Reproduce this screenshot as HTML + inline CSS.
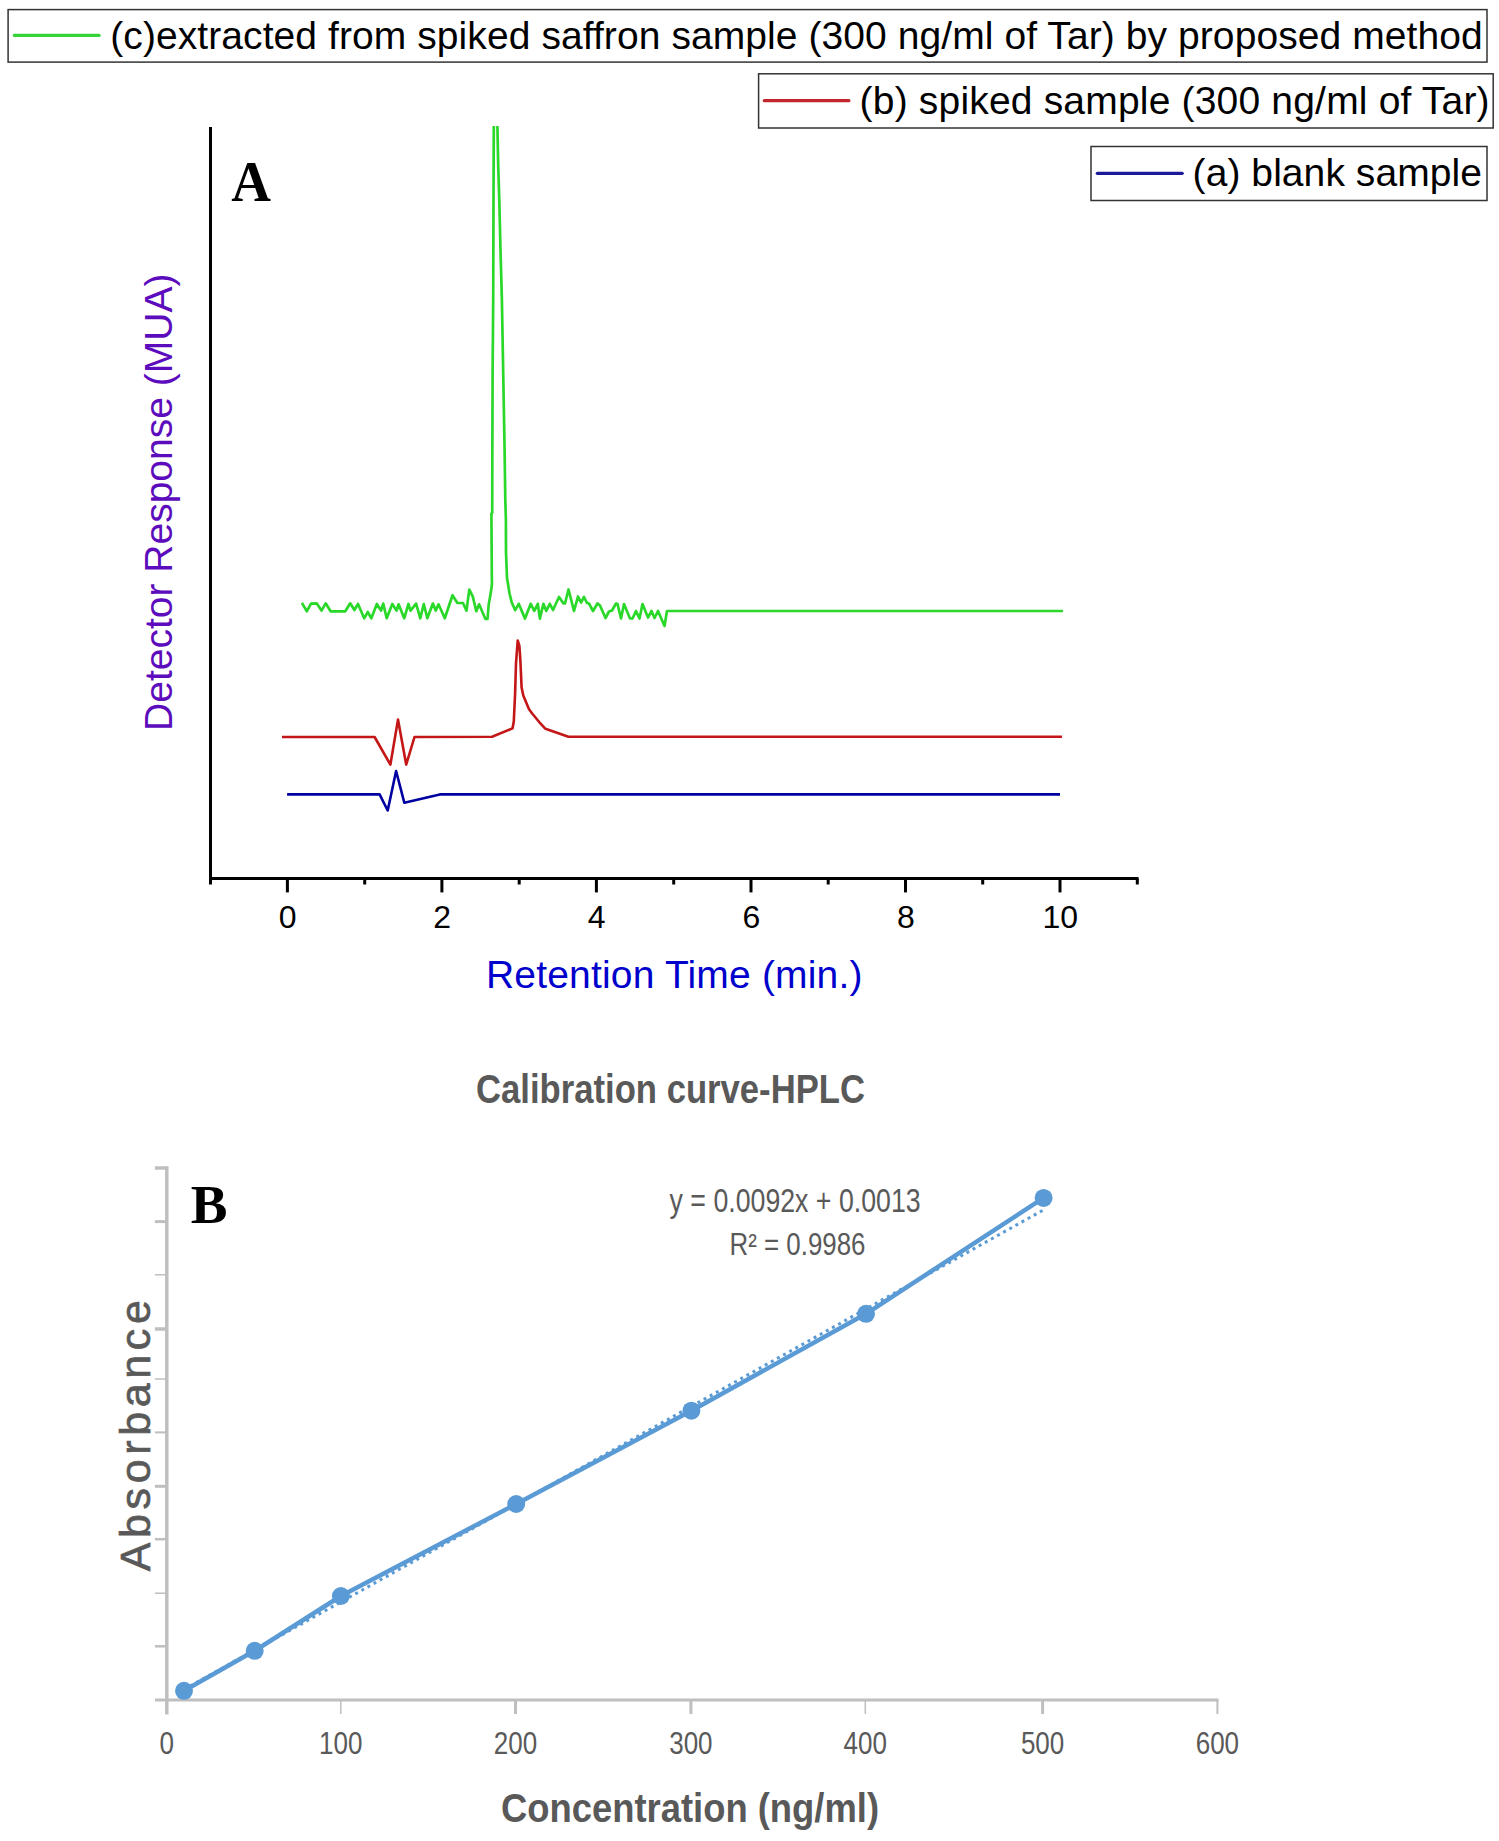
<!DOCTYPE html>
<html><head><meta charset="utf-8"><style>
html,body{margin:0;padding:0;background:#fff;}
svg{display:block;}
text{font-family:"Liberation Sans",sans-serif;}
</style></head><body>
<svg width="1499" height="1841" viewBox="0 0 1499 1841">
<defs><clipPath id="clipA"><rect x="0" y="126" width="1499" height="1000"/></clipPath></defs>
<rect width="1499" height="1841" fill="#fff"/>
<!-- legends -->
<g fill="none" stroke="#333" stroke-width="1.5">
<rect x="8.1" y="9.6" width="1478.9" height="52.5"/>
<rect x="758.6" y="73.8" width="734.6" height="54.2"/>
<rect x="1091" y="146.5" width="396" height="54"/>
</g>
<g stroke-width="3.2" stroke-linecap="round">
<line x1="14.3" y1="35.4" x2="99.1" y2="35.4" stroke="#36d436"/>
<line x1="764.3" y1="100.7" x2="848.9" y2="100.7" stroke="#c4262e"/>
<line x1="1097.3" y1="173.3" x2="1182.2" y2="173.3" stroke="#1a1a9a"/>
</g>
<g font-size="39" fill="#000">
<text x="110.3" y="49" textLength="1372.4" lengthAdjust="spacing">(c)extracted from spiked saffron sample (300 ng/ml of Tar) by proposed method</text>
<text x="859.6" y="113.6" textLength="630" lengthAdjust="spacing">(b) spiked sample (300 ng/ml of Tar)</text>
<text x="1192.6" y="186.2" textLength="289.3" lengthAdjust="spacing">(a) blank sample</text>
</g>
<!-- chart A -->
<text x="231.3" y="201.2" font-weight="bold" font-size="57.5" textLength="39.7" lengthAdjust="spacingAndGlyphs" style="font-family:'Liberation Serif',serif">A</text>
<g stroke="#000" stroke-width="3" fill="none">
<line x1="210.5" y1="127" x2="210.5" y2="884.6"/>
<line x1="209" y1="878.5" x2="1138.5" y2="878.5"/>
<line x1="287.4" y1="878.5" x2="287.4" y2="892.4"/><line x1="364.7" y1="878.5" x2="364.7" y2="884.5"/><line x1="441.9" y1="878.5" x2="441.9" y2="892.4"/><line x1="519.2" y1="878.5" x2="519.2" y2="884.5"/><line x1="596.4" y1="878.5" x2="596.4" y2="892.4"/><line x1="673.7" y1="878.5" x2="673.7" y2="884.5"/><line x1="751.0" y1="878.5" x2="751.0" y2="892.4"/><line x1="828.2" y1="878.5" x2="828.2" y2="884.5"/><line x1="905.5" y1="878.5" x2="905.5" y2="892.4"/><line x1="982.7" y1="878.5" x2="982.7" y2="884.5"/><line x1="1060.0" y1="878.5" x2="1060.0" y2="892.4"/><line x1="1137.3" y1="878.5" x2="1137.3" y2="884.5"/>
</g>
<g font-size="32" fill="#000"><text x="287.7" y="927.5" text-anchor="middle">0</text><text x="442.2" y="927.5" text-anchor="middle">2</text><text x="596.7" y="927.5" text-anchor="middle">4</text><text x="751.3" y="927.5" text-anchor="middle">6</text><text x="905.8" y="927.5" text-anchor="middle">8</text><text x="1060.3" y="927.5" text-anchor="middle">10</text></g>
<text transform="translate(172,730.9) rotate(-90)" font-size="39" fill="#5c0cbc">Detector Response (MUA)</text>
<text x="485.9" y="988.4" font-size="39" fill="#0000cc" textLength="376.6" lengthAdjust="spacing">Retention Time (min.)</text>
<g fill="none" stroke-linejoin="round">
<polyline points="287.1,794.4 379.6,794.4 387.7,810.5 396.1,771.0 404.3,802.7 439.8,794.4 1060.0,794.4" stroke="#0000a0" stroke-width="2.6"/>
<polyline points="282.0,737.0 374.6,737.0 390.4,764.6 398.0,719.6 406.2,764.6 414.5,737.0 492.1,736.7 512.5,728.4 513.8,721.5 515.1,693.7 516.0,663.4 517.7,640.5 519.4,646.0 520.3,659.0 521.6,687.6 523.3,695.5 529.0,709.3 532.4,713.7 539.4,722.3 545.5,728.8 568.4,736.7 1062.0,736.7" stroke="#c41616" stroke-width="2.6"/>
<polyline points="301.9,602.9 306.8,611.3 311.0,603.6 316.6,603.3 321.5,610.6 325.7,603.3 330.6,611.3 345.3,611.3 350.2,603.3 354.4,610.0 358.0,604.0 364.2,618.3 367.8,612.0 371.3,618.3 376.9,604.0 381.0,610.6 383.2,603.6 386.7,618.3 392.3,604.0 396.5,610.6 398.6,604.3 404.2,618.3 408.4,604.0 410.5,610.6 416.1,603.6 420.3,618.3 423.8,604.0 427.3,618.3 432.9,603.6 435.7,610.6 438.5,604.3 444.8,618.3 452.5,595.2 457.4,603.0 463.0,603.0 466.5,610.6 469.3,589.6 472.8,596.6 476.3,611.3 479.1,604.3 485.4,619.0 487.5,619.0 488.7,604.5 490.5,594.6 491.9,584.7 491.4,514.0 492.2,512.5 492.3,470.0 492.6,375.0 493.2,300.0 493.5,200.0 493.9,100.0 497.4,100.0 497.4,126.0 498.2,165.0 499.3,200.0 500.5,250.0 501.9,300.0 502.8,350.0 503.7,400.0 504.6,450.0 505.3,500.0 505.9,520.0 506.0,552.0 507.0,577.7 509.5,593.2 511.7,602.4 515.2,610.2 518.7,603.8 525.0,618.6 530.7,603.8 534.3,610.9 537.8,603.8 539.9,618.6 543.4,603.8 546.3,610.9 549.8,603.8 553.0,610.0 559.0,597.0 563.5,603.5 565.0,603.5 568.5,589.5 574.0,611.0 578.0,596.5 581.0,602.5 584.0,597.0 587.0,603.0 589.0,603.5 593.0,611.0 597.5,603.5 600.0,605.5 605.5,618.0 609.0,611.5 612.0,610.5 616.0,603.5 617.5,604.0 621.0,618.5 624.0,604.0 630.0,618.5 632.5,618.5 636.0,611.0 639.5,618.5 642.5,604.0 648.0,617.5 651.5,611.0 654.5,618.0 658.0,611.0 664.5,626.0 667.0,611.0 1063.0,611.0" stroke="#2ad82a" stroke-width="2.7" clip-path="url(#clipA)"/>
</g>
<!-- chart B -->
<text x="476" y="1103.4" font-size="40" font-weight="bold" fill="#595959" textLength="389" lengthAdjust="spacingAndGlyphs">Calibration curve-HPLC</text>
<text x="190.7" y="1223" font-weight="bold" font-size="55" style="font-family:'Liberation Serif',serif">B</text>
<g stroke="#bfbfbf" stroke-width="3" fill="none">
<line x1="166.8" y1="1166.2" x2="166.8" y2="1714.5" stroke-width="3.5"/>
<line x1="155" y1="1700" x2="1218.4" y2="1700"/>
<line x1="154.9" y1="1168" x2="166.8" y2="1168" stroke-width="3.5"/><line x1="154.9" y1="1221.6" x2="166.8" y2="1221.6" stroke-width="3"/><line x1="154.9" y1="1274.8" x2="166.8" y2="1274.8" stroke-width="1.5"/><line x1="154.9" y1="1329" x2="166.8" y2="1329" stroke-width="3.5"/><line x1="154.9" y1="1379" x2="166.8" y2="1379" stroke-width="1.5"/><line x1="154.9" y1="1432.4" x2="166.8" y2="1432.4" stroke-width="2"/><line x1="154.9" y1="1486.3" x2="166.8" y2="1486.3" stroke-width="3"/><line x1="154.9" y1="1539.2" x2="166.8" y2="1539.2" stroke-width="2.5"/><line x1="154.9" y1="1593.2" x2="166.8" y2="1593.2" stroke-width="1.5"/><line x1="154.9" y1="1646.3" x2="166.8" y2="1646.3" stroke-width="2.5"/><line x1="340.8" y1="1700" x2="340.8" y2="1714" stroke-width="1.5"/><line x1="515.5" y1="1700" x2="515.5" y2="1714" stroke-width="3"/><line x1="690.9" y1="1700" x2="690.9" y2="1714" stroke-width="3"/><line x1="865.3" y1="1700" x2="865.3" y2="1714" stroke-width="1.5"/><line x1="1042.6" y1="1700" x2="1042.6" y2="1714" stroke-width="3"/><line x1="1217.4" y1="1700" x2="1217.4" y2="1714" stroke-width="2"/>
</g>
<g font-size="32" fill="#595959"><text x="159.6" y="1754" textLength="14.5" lengthAdjust="spacingAndGlyphs">0</text><text x="319.1" y="1754" textLength="43.4" lengthAdjust="spacingAndGlyphs">100</text><text x="493.8" y="1754" textLength="43.4" lengthAdjust="spacingAndGlyphs">200</text><text x="669.2" y="1754" textLength="43.4" lengthAdjust="spacingAndGlyphs">300</text><text x="843.6" y="1754" textLength="43.4" lengthAdjust="spacingAndGlyphs">400</text><text x="1020.9" y="1754" textLength="43.4" lengthAdjust="spacingAndGlyphs">500</text><text x="1195.7" y="1754" textLength="43.4" lengthAdjust="spacingAndGlyphs">600</text></g>
<text x="501" y="1821.8" font-size="40" font-weight="bold" fill="#595959" textLength="378" lengthAdjust="spacingAndGlyphs">Concentration (ng/ml)</text>
<text transform="translate(149.7,1571.2) rotate(-90)" font-size="43" fill="#595959" stroke="#595959" stroke-width="0.7" textLength="271" lengthAdjust="spacing">Absorbance</text>
<text x="669.6" y="1212" font-size="34" fill="#595959" textLength="251" lengthAdjust="spacingAndGlyphs">y = 0.0092x + 0.0013</text>
<text x="729.5" y="1254.6" font-size="31" fill="#595959" textLength="136" lengthAdjust="spacingAndGlyphs">R² = 0.9986</text>
<g fill="none" stroke="#5b9bd5">
<polyline points="184.0,1690.8 254.7,1650.8 340.9,1596.0 516.2,1504.0 691.4,1410.7 866.0,1313.8 1043.6,1197.9" stroke-width="4.5" stroke-linejoin="round"/>
<line x1="184.1" y1="1689.4" x2="1042.6" y2="1210.4" stroke-width="3" stroke-dasharray="3 4"/>
</g>
<g fill="#5b9bd5"><circle cx="184" cy="1690.8" r="9"/><circle cx="254.7" cy="1650.8" r="9"/><circle cx="340.9" cy="1596" r="9"/><circle cx="516.2" cy="1504" r="9"/><circle cx="691.4" cy="1410.7" r="9"/><circle cx="866" cy="1313.8" r="9"/><circle cx="1043.6" cy="1197.9" r="9"/></g>
</svg>
</body></html>
